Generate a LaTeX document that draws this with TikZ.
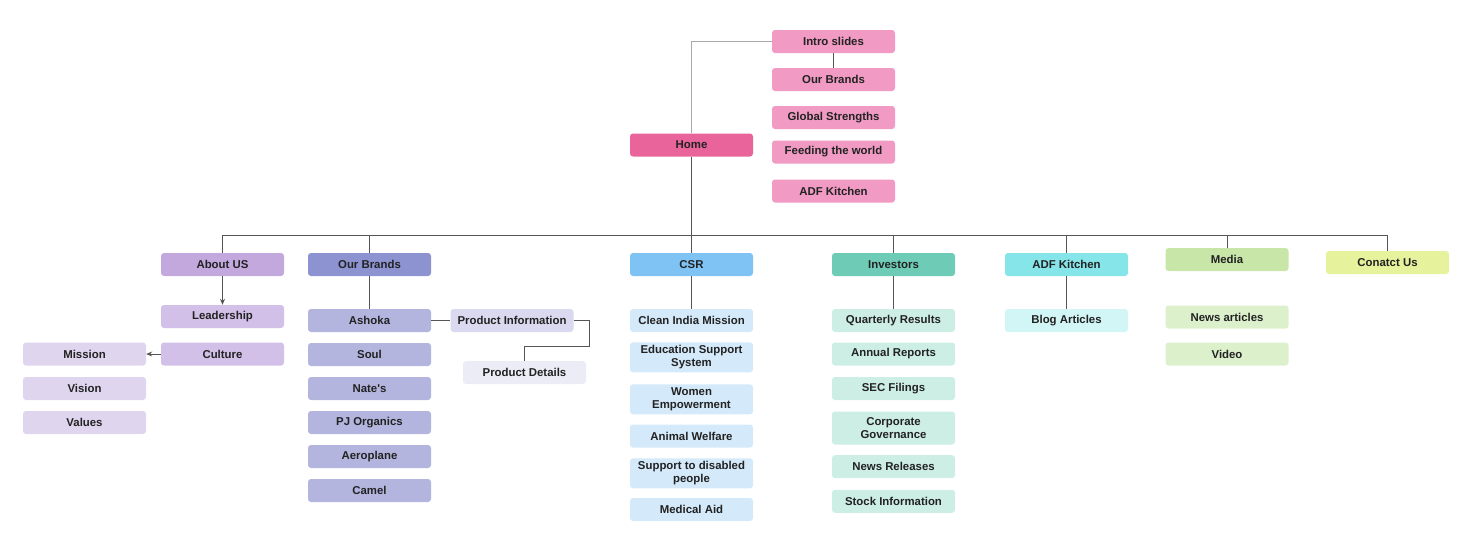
\documentclass[tikz,border=0pt]{standalone}
\usepackage{fontspec}
\setmainfont{Liberation Sans}
\usetikzlibrary{arrows.meta}
\definecolor{cHome}{HTML}{E8649B}
\definecolor{cPink}{HTML}{F19AC3}
\definecolor{cAbout}{HTML}{C3A8DE}
\definecolor{cAboutA}{HTML}{D3C0E8}
\definecolor{cAboutB}{HTML}{E0D5EF}
\definecolor{cBrand}{HTML}{8D93D1}
\definecolor{cBrandA}{HTML}{B3B5DF}
\definecolor{cBrandB}{HTML}{D9DAF0}
\definecolor{cBrandC}{HTML}{ECECF7}
\definecolor{cCSR}{HTML}{7FC3F5}
\definecolor{cCSRA}{HTML}{D4E9FA}
\definecolor{cInv}{HTML}{6ECBB5}
\definecolor{cInvA}{HTML}{CDEEE5}
\definecolor{cADF}{HTML}{85E5E8}
\definecolor{cADFA}{HTML}{D2F5F6}
\definecolor{cMedia}{HTML}{C8E6A8}
\definecolor{cMediaA}{HTML}{DDF0CC}
\definecolor{cContact}{HTML}{E6F29C}
\definecolor{cText}{HTML}{222222}
\definecolor{cLine}{HTML}{555555}
\definecolor{cLight}{HTML}{A8A8A8}
\tikzset{
  box/.style={rectangle, rounded corners=3pt, minimum width=123pt, minimum height=23pt,
    inner sep=0pt, align=center, text=cText,
    font=\fontsize{11.4}{12.7}\selectfont\bfseries},
  tall/.style={box, minimum height=30pt},
  taller/.style={box, minimum height=33pt},
  conn/.style={draw=cLine, line width=0.8pt},
  lightconn/.style={draw=cLight, line width=1pt},
  arr/.style={conn, -{Stealth[length=6pt,width=5pt]}}
}
\begin{document}
\begin{tikzpicture}[x=1pt,y=-1pt]
\useasboundingbox (0,0) rectangle (1471,549);
% top
\node[box, fill=cHome] (home) at (691.5,145) {Home};
\node[box, fill=cPink] (intro) at (833.5,41.5) {Intro slides};
\node[box, fill=cPink] (tbrands) at (833.5,79.5) {Our Brands};
\node[box, fill=cPink] (global) at (833.5,117.5) {Global Strengths};
\node[box, fill=cPink] (feed) at (833.5,152) {Feeding the world};
\node[box, fill=cPink] (tadf) at (833.5,191) {ADF Kitchen};
% level 1
\node[box, fill=cAbout] (about) at (222.5,264.5) {About US};
\node[box, fill=cBrand] (brands) at (369.5,264.5) {Our Brands};
\node[box, fill=cCSR] (csr) at (691.5,264.5) {CSR};
\node[box, fill=cInv] (inv) at (893.5,264.5) {Investors};
\node[box, fill=cADF] (adf) at (1066.5,264.5) {ADF Kitchen};
\node[box, fill=cMedia] (media) at (1227,259.5) {Media};
\node[box, fill=cContact] (contact) at (1387.5,262.5) {Conatct Us};
% about
\node[box, fill=cAboutA] (lead) at (222.5,316.5) {Leadership};
\node[box, fill=cAboutA] (culture) at (222.5,354) {Culture};
\node[box, fill=cAboutB] (mission) at (84.5,354) {Mission};
\node[box, fill=cAboutB] (vision) at (84.5,388.5) {Vision};
\node[box, fill=cAboutB] (values) at (84.5,422.5) {Values};
% brands
\node[box, fill=cBrandA] (ashoka) at (369.5,320.5) {Ashoka};
\node[box, fill=cBrandA] (soul) at (369.5,354.5) {Soul};
\node[box, fill=cBrandA] (nate) at (369.5,388.5) {Nate\textquotesingle s};
\node[box, fill=cBrandA] (pj) at (369.5,422.5) {PJ Organics};
\node[box, fill=cBrandA] (aero) at (369.5,456.5) {Aeroplane};
\node[box, fill=cBrandA] (camel) at (369.5,490.5) {Camel};
\node[box, fill=cBrandB] (pinfo) at (512,320.5) {Product Information};
\node[box, fill=cBrandC] (pdet) at (524.5,372.5) {Product Details};
% csr
\node[box, fill=cCSRA] (clean) at (691.5,320.5) {Clean India Mission};
\node[tall, fill=cCSRA] (edu) at (691.5,357.3) {Education Support\\System};
\node[tall, fill=cCSRA] (women) at (691.5,399.3) {Women\\Empowerment};
\node[box, fill=cCSRA] (animal) at (691.5,436) {Animal Welfare};
\node[tall, fill=cCSRA] (disab) at (691.5,473.3) {Support to disabled\\people};
\node[box, fill=cCSRA] (medical) at (691.5,509.5) {Medical Aid};
% investors
\node[box, fill=cInvA] (quart) at (893.5,320.5) {Quarterly Results};
\node[box, fill=cInvA] (annual) at (893.5,354) {Annual Reports};
\node[box, fill=cInvA] (sec) at (893.5,388.5) {SEC Filings};
\node[taller, fill=cInvA] (corp) at (893.5,428) {Corporate\\Governance};
\node[box, fill=cInvA] (news) at (893.5,466.7) {News Releases};
\node[box, fill=cInvA] (stock) at (893.5,501.3) {Stock Information};
% adf
\node[box, fill=cADFA] (blog) at (1066.5,320.5) {Blog Articles};
% media
\node[box, fill=cMediaA] (newsart) at (1227,317) {News articles};
\node[box, fill=cMediaA] (video) at (1227,354) {Video};
% connectors
\coordinate (bus) at (0,235);
\draw[lightconn] (home.north) |- (intro.west);
\draw[conn] (intro.south) -- (tbrands.north);
\draw[conn] (home.south) -- (home.south |- bus);
\draw[conn] (about.north) -- (about.north |- bus) -- (contact.north |- bus) -- (contact.north);
\draw[conn] (brands.north) -- (brands.north |- bus);
\draw[conn] (csr.north) -- (csr.north |- bus);
\draw[conn] (inv.north) -- (inv.north |- bus);
\draw[conn] (adf.north) -- (adf.north |- bus);
\draw[conn] (media.north) -- (media.north |- bus);
\draw[arr] (about.south) -- (lead.north);
\draw[arr] (culture.west) -- (mission.east);
\draw[conn] (brands.south) -- (ashoka.north);
\draw[conn] (ashoka.east) -- (pinfo.west);
\draw[conn] (pinfo.east) -- ++(16,0) -- ++(0,25.5) -| (pdet.north);
\draw[conn] (csr.south) -- (clean.north);
\draw[conn] (inv.south) -- (quart.north);
\draw[conn] (adf.south) -- (blog.north);
\end{tikzpicture}
\end{document}
